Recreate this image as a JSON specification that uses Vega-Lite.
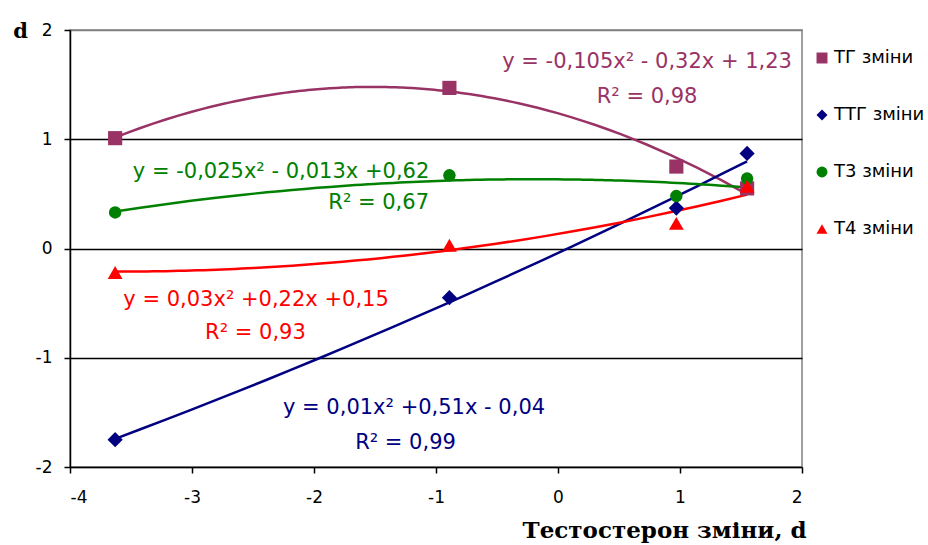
{
  "$schema": "https://vega.github.io/schema/vega-lite/v6.json",
  "width": 732,
  "height": 437,
  "autosize": {"type": "none"},
  "padding": {"left": 70, "top": 30, "right": 126, "bottom": 78},
  "background": "white",
  "config": {
    "view": {"stroke": "#808080", "strokeWidth": 1.5},
    "font": "DejaVu Sans"
  },
  "datasets": {
    "points": [
      {"series": "ТГ зміни", "x": -3.63, "y": 1.01},
      {"series": "ТГ зміни", "x": -0.89, "y": 1.47},
      {"series": "ТГ зміни", "x": 0.97, "y": 0.75},
      {"series": "ТГ зміни", "x": 1.55, "y": 0.55},
      {"series": "ТТГ зміни", "x": -3.63, "y": -1.75},
      {"series": "ТТГ зміни", "x": -0.89, "y": -0.45},
      {"series": "ТТГ зміни", "x": 0.97, "y": 0.37},
      {"series": "ТТГ зміни", "x": 1.55, "y": 0.87},
      {"series": "Т3 зміни", "x": -3.63, "y": 0.33},
      {"series": "Т3 зміни", "x": -0.89, "y": 0.67},
      {"series": "Т3 зміни", "x": 0.97, "y": 0.48},
      {"series": "Т3 зміни", "x": 1.55, "y": 0.64},
      {"series": "Т4 зміни", "x": -3.63, "y": -0.22},
      {"series": "Т4 зміни", "x": -0.89, "y": 0.03},
      {"series": "Т4 зміни", "x": 0.97, "y": 0.23},
      {"series": "Т4 зміни", "x": 1.55, "y": 0.57}
    ],
    "labels": [
      {"series": "ТГ зміни", "x": 0.73, "y": 1.71, "text": "y = -0,105x² - 0,32x + 1,23"},
      {"series": "ТГ зміни", "x": 0.73, "y": 1.39, "text": "R² = 0,98"},
      {"series": "Т3 зміни", "x": -2.27, "y": 0.70, "text": "y = -0,025x² - 0,013x +0,62"},
      {"series": "Т3 зміни", "x": -1.47, "y": 0.42, "text": "R² = 0,67"},
      {"series": "Т4 зміни", "x": -2.475, "y": -0.47, "text": "y = 0,03x² +0,22x +0,15"},
      {"series": "Т4 зміни", "x": -2.48, "y": -0.77, "text": "R² = 0,93"},
      {"series": "ТТГ зміни", "x": -1.18, "y": -1.46, "text": "y = 0,01x² +0,51x - 0,04"},
      {"series": "ТТГ зміни", "x": -1.25, "y": -1.78, "text": "R² = 0,99"}
    ]
  },
  "layer": [
    {
      "data": {"name": "labels"},
      "mark": {"type": "text", "fontSize": 21, "align": "center", "baseline": "middle"},
      "encoding": {
        "x": {"field": "x", "type": "quantitative"},
        "y": {"field": "y", "type": "quantitative"},
        "text": {"field": "text"},
        "fill": {
          "field": "series",
          "type": "nominal",
          "scale": {"range": ["#008000", "#FF0000", "#993366", "#000080"]},
          "legend": null
        }
      }
    },
    {
      "data": {"name": "points"},
      "transform": [
        {"regression": "y", "on": "x", "groupby": ["series"], "method": "poly", "order": 2}
      ],
      "mark": {"type": "line", "strokeWidth": 2.5},
      "encoding": {
        "x": {"field": "x", "type": "quantitative"},
        "y": {"field": "y", "type": "quantitative"},
        "detail": {"field": "series"},
        "stroke": {
          "field": "series",
          "type": "nominal",
          "scale": {"range": ["#008000", "#FF0000", "#993366", "#000080"]},
          "legend": null
        }
      }
    },
    {
      "data": {"name": "points"},
      "mark": {"type": "point", "filled": true, "opacity": 1},
      "encoding": {
        "x": {
          "field": "x",
          "type": "quantitative",
          "scale": {"domain": [-4, 2], "nice": false, "zero": false},
          "axis": {
            "values": [-4, -3, -2, -1, 0, 1, 2],
            "labelExpr": "'' + datum.value",
            "grid": false,
            "domainColor": "black",
            "domainWidth": 1.5,
            "tickColor": "black",
            "tickWidth": 1.5,
            "tickSize": 6,
            "labelFontSize": 17,
            "labelColor": "black",
            "labelPadding": 16,
            "title": "Тестостерон зміни, d",
            "titleFont": "DejaVu Serif",
            "titleFontSize": 23,
            "titleFontWeight": "bold",
            "titleColor": "black",
            "titleX": 736,
            "titleY": 70,
            "titleAlign": "right",
            "titleBaseline": "alphabetic"
          }
        },
        "y": {
          "field": "y",
          "type": "quantitative",
          "scale": {"domain": [-2, 2], "nice": false, "zero": false},
          "axis": {
            "values": [-2, -1, 0, 1, 2],
            "labelExpr": "'' + datum.value",
            "grid": true,
            "gridColor": {"condition": {"test": "datum.value == 2 || datum.value == -2", "value": "#808080"}, "value": "black"},
            "gridWidth": 1.5,
            "domainColor": "black",
            "domainWidth": 1.5,
            "tickColor": "black",
            "tickWidth": 1.5,
            "tickSize": 6,
            "labelFontSize": 17,
            "labelColor": "black",
            "labelPadding": 12,
            "title": "d",
            "titleAngle": 0,
            "titleX": -50,
            "titleY": 1,
            "titleAlign": "center",
            "titleBaseline": "middle",
            "titleFont": "DejaVu Serif",
            "titleFontSize": 21,
            "titleFontWeight": "bold",
            "titleColor": "black"
          }
        },
        "size": {
          "field": "series",
          "type": "nominal",
          "scale": {"type": "ordinal", "range": [155, 220, 200, 230]},
          "legend": null
        },
        "color": {
          "field": "series",
          "type": "nominal",
          "scale": {
            "domain": ["ТГ зміни", "ТТГ зміни", "Т3 зміни", "Т4 зміни"],
            "range": ["#993366", "#000080", "#008000", "#FF0000"]
          },
          "legend": {
            "orient": "none",
            "legendX": 743,
            "legendY": 19,
            "title": null,
            "padding": 0,
            "labelFontSize": 18,
            "labelColor": "black",
            "labelFont": "DejaVu Sans",
            "symbolSize": 120,
            "symbolStrokeWidth": 0,
            "labelOffset": 3,
            "rowPadding": 39
          }
        },
        "shape": {
          "field": "series",
          "type": "nominal",
          "scale": {
            "domain": ["ТГ зміни", "ТТГ зміни", "Т3 зміни", "Т4 зміни"],
            "range": ["square", "diamond", "circle", "triangle-up"]
          },
          "legend": {
            "orient": "none",
            "legendX": 743,
            "legendY": 19,
            "title": null,
            "padding": 0,
            "labelFontSize": 18,
            "labelColor": "black",
            "labelFont": "DejaVu Sans",
            "symbolSize": 120,
            "symbolStrokeWidth": 0,
            "labelOffset": 3,
            "rowPadding": 39
          }
        }
      }
    }
  ]
}
